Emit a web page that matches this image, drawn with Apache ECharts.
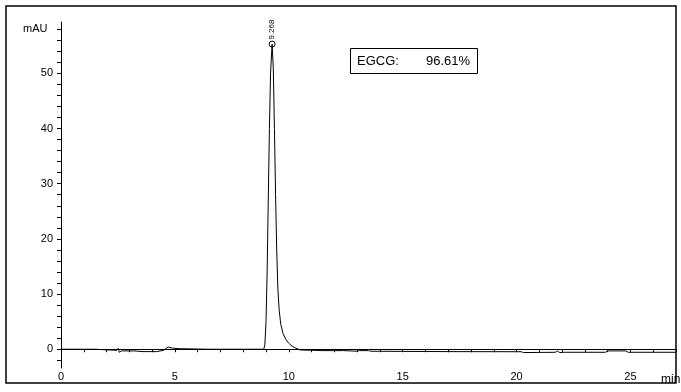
<!DOCTYPE html>
<html>
<head>
<meta charset="utf-8">
<script src="https://cdn.jsdelivr.net/npm/echarts@6/dist/echarts.min.js"></script>
<style>
  html, body { margin: 0; padding: 0; background: #fff; }
  #chart { width: 681px; height: 392px; }
</style>
</head>
<body>
<div id="chart"></div>
<script>
// retention time (min) and signal (mAU)
var times = [0, 1.5, 1.56, 2.45, 2.51, 2.56, 2.65, 3.2, 3.24, 3.28, 3.6, 4.2, 4.5, 4.7, 4.9, 5.2, 6.5,
    8.9, 8.95, 9.0, 9.05, 9.1, 9.15, 9.2, 9.268, 9.32, 9.37, 9.42, 9.47, 9.52, 9.58, 9.65, 9.75, 9.88, 10.0, 10.1, 10.3, 10.5,
    11.5, 12.4, 12.45, 13.0, 13.1, 13.5, 13.6, 17.0, 20.2, 20.3, 21.7, 21.8, 21.9, 22.1, 23.9, 24.0, 24.8, 24.9, 27];
var signal = [0, 0, -0.2, -0.2, 0.18, -0.55, -0.3, -0.3, -0.1, -0.35, -0.43, -0.43, -0.2, 0.4, 0.2, 0.1, 0,
    0, 0.8, 5, 14, 27, 40, 50, 55.3, 51, 40, 28, 18, 11, 7, 4.5, 2.8, 1.7, 1.1, 0.7, 0.2, -0.13,
    -0.25, -0.25, -0.36, -0.36, -0.25, -0.25, -0.36, -0.43, -0.45, -0.6, -0.55, -0.35, -0.6, -0.55, -0.55, -0.3, -0.3, -0.55, -0.55];

var peakTime = 9.268;
var peakHeight = 55.3;

var xLabels = [0, 5, 10, 15, 20, 25];
var yLabels = [0, 10, 20, 30, 40, 50];
var compoundName = 'EGCG:';
var compoundPurity = '96.61%';

var xTicks = [];
for (var i = 0; i <= 27; i++) xTicks.push(i);
var yTicks = [];
for (var j = -2; j <= 58; j += 2) yTicks.push(j);

var trace = times.map(function (t, k) { return [t, signal[k]]; });

var myChart = echarts.init(document.getElementById('chart'));

var font = 'Liberation Sans, Arial, sans-serif';

var option = {
    animation: false,
    backgroundColor: '#fff',
    grid: { left: 61, top: 22, right: 5, bottom: 24 },
    xAxis: {
        type: 'value',
        min: 0,
        max: 27,
        axisLine: { lineStyle: { color: '#000', width: 1 } },
        axisTick: { customValues: xTicks, length: 3, lineStyle: { color: '#000' } },
        axisLabel: { customValues: xLabels, color: '#000', fontSize: 11, fontFamily: font, margin: 3 },
        splitLine: { show: false }
    },
    yAxis: {
        type: 'value',
        min: -3.4,
        max: 59.3,
        axisLine: { show: true, lineStyle: { color: '#000', width: 1 } },
        axisTick: { customValues: yTicks, length: 4, lineStyle: { color: '#000' } },
        axisLabel: { customValues: yLabels, color: '#000', fontSize: 11, fontFamily: font, margin: 8 },
        splitLine: { show: false }
    },
    graphic: [
        { type: 'rect', shape: { x: 6, y: 6, width: 670, height: 377 }, style: { fill: null, stroke: '#000', lineWidth: 1.5 }, z: 100 },
        { type: 'text', left: 23, top: 23, style: { text: 'mAU', fill: '#000', font: '11px ' + font } },
        { type: 'text', left: 661, top: 374, style: { text: 'min', fill: '#000', font: '12px ' + font } },
        { type: 'rect', shape: { x: 350.5, y: 48.5, width: 127, height: 25 }, style: { fill: '#fff', stroke: '#000', lineWidth: 1 } },
        { type: 'text', left: 357, top: 55, style: { text: compoundName, fill: '#000', font: '13px ' + font } },
        { type: 'text', left: 426, top: 55, style: { text: compoundPurity, fill: '#000', font: '13px ' + font } }
    ],
    series: [{
        type: 'line',
        data: trace,
        showSymbol: false,
        lineStyle: { color: '#000', width: 1 },
        markPoint: {
            symbol: 'circle',
            symbolSize: 6,
            itemStyle: { color: 'rgba(0,0,0,0)', borderColor: '#000', borderWidth: 1 },
            label: {
                show: true,
                formatter: String(peakTime),
                position: 'top',
                rotate: 90,
                align: 'left',
                verticalAlign: 'middle',
                distance: 1,
                color: '#000',
                fontSize: 8,
                fontFamily: font
            },
            data: [{ coord: [peakTime, peakHeight] }]
        }
    }]
};

myChart.setOption(option);
</script>
</body>
</html>
